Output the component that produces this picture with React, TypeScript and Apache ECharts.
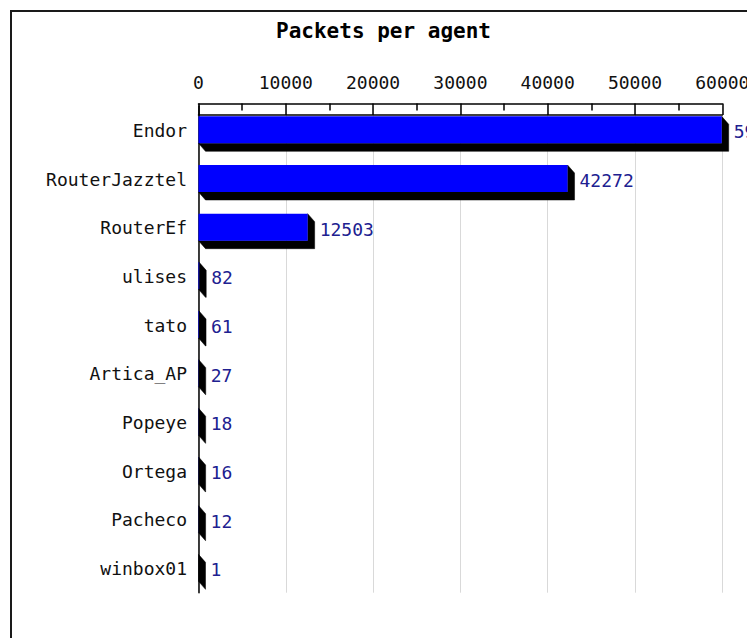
import React, { useEffect, useRef } from "react";
import * as echarts from "echarts";

const TITLE = "Packets per agent";
const categories = [
  "Endor",
  "RouterJazztel",
  "RouterEf",
  "ulises",
  "tato",
  "Artica_AP",
  "Popeye",
  "Ortega",
  "Pacheco",
  "winbox01",
];
const packets = [59931, 42272, 12503, 82, 61, 27, 18, 16, 12, 1];
const xMin = 0;
const xMax = 60000;
const xInterval = 10000;

const FONT = "'DejaVu Sans Mono', 'Liberation Mono', monospace";

export default function App() {
  const ref = useRef<HTMLDivElement>(null);

  useEffect(() => {
    if (!ref.current) return;
    const chart = echarts.init(ref.current, undefined, { renderer: "svg" });
    const gridTop = 106;

    const data = packets.map((v, i) => [v, i]);

    chart.setOption({
      animation: false,
      backgroundColor: "#ffffff",
      graphic: [
        {
          type: "polyline",
          shape: { points: [[11, 700], [11, 11], [760, 11]] },
          style: { fill: "none", stroke: "#1a1a1a", lineWidth: 2 },
          silent: true,
        },
        {
          type: "text",
          x: 383.5,
          y: 31,
          style: {
            text: TITLE,
            font: `bold 21px ${FONT}`,
            fill: "#000000",
            align: "center",
            verticalAlign: "middle",
          },
          silent: true,
        },
      ],
      grid: {
        left: 198.5,
        right: 747 - 722.3,
        top: gridTop,
        bottom: 638 - (gridTop + 486.7),
        containLabel: false,
        outerBoundsMode: "none",
      },
      xAxis: [
        {
          type: "value",
          position: "top",
          min: xMin,
          max: xMax,
          interval: xInterval,
          offset: 2.5,
          axisLine: { show: true, lineStyle: { color: "#000", width: 1.5 } },
          axisTick: {
            show: true,
            inside: true,
            length: 11.5,
            lineStyle: { color: "#000", width: 1.5 },
          },
          minorTick: {
            show: true,
            splitNumber: 2,
            length: 7,
            lineStyle: { color: "#000", width: 1.5 },
          },
          axisLabel: {
            show: true,
            showMinLabel: true,
            showMaxLabel: true,
            hideOverlap: false,
            margin: 21,
            verticalAlign: "middle",
            fontFamily: FONT,
            fontSize: 18,
            color: "#111",
            formatter: (v: number) => String(v),
          },
          splitLine: { show: true, lineStyle: { color: "#d9d9d9", width: 1 } },
        },
        {
          type: "value",
          position: "top",
          min: xMin,
          max: xMax,
          interval: xInterval,
          offset: -9,
          axisLine: { show: true, lineStyle: { color: "#000", width: 1.5 } },
          axisTick: { show: false },
          axisLabel: { show: false },
          splitLine: { show: false },
        },
      ],
      yAxis: {
        type: "category",
        data: categories,
        inverse: true,
        axisLine: { show: true, lineStyle: { color: "#000", width: 1.5 } },
        axisTick: { show: false },
        axisLabel: {
          margin: 11.5,
          fontFamily: FONT,
          fontSize: 18,
          color: "#111",
        },
        splitLine: { show: false },
      },
      series: [
        {
          type: "custom",
          xAxisIndex: 0,
          data,
          encode: { x: 0, y: 1 },
          clip: false,
          renderItem: (params: any, api: any) => {
            const v = api.value(0);
            const idx = api.value(1);
            const p0 = api.coord([0, idx]);
            const p1 = api.coord([v, idx]);
            const cy = p0[1];
            const x0 = p0[0];
            const x1 = p1[0];
            const y0 = cy - 14;
            const y1 = cy + 13;
            const dx = 7;
            const dy = 8;
            return {
              type: "group",
              children: [
                {
                  type: "polygon",
                  shape: {
                    points: [
                      [x0, y1],
                      [x0 + dx, y1 + dy],
                      [x1 + dx, y1 + dy],
                      [x1 + dx, y0 + dy],
                      [x1, y0],
                      [x1, y1],
                    ],
                  },
                  style: { fill: "#000000", stroke: "#000000", lineWidth: 0.5 },
                },
                {
                  type: "rect",
                  shape: { x: x0, y: y0, width: Math.max(x1 - x0, 0), height: y1 - y0 },
                  style: { fill: "#0000ff" },
                },
                {
                  type: "text",
                  x: x1 + dx + 5,
                  y: cy + 1.5,
                  style: {
                    text: String(v),
                    font: `18px ${FONT}`,
                    fill: "#202090",
                    align: "left",
                    verticalAlign: "middle",
                  },
                },
              ],
            };
          },
        },
      ],
    });

    return () => {
      chart.dispose();
    };
  }, []);

  return (
    <div
      ref={ref}
      style={{ position: "absolute", left: 0, top: 0, width: 747, height: 638 }}
    />
  );
}
